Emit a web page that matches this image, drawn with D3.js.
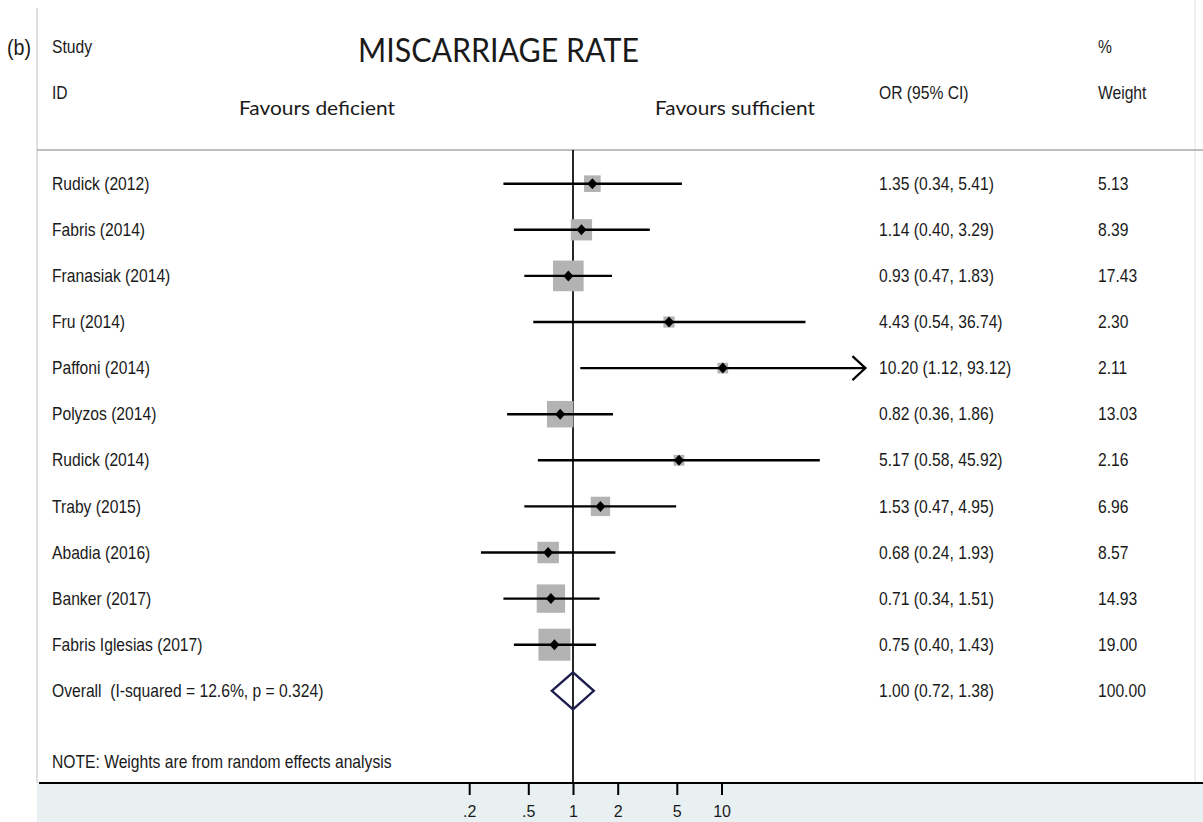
<!DOCTYPE html>
<html>
<head>
<meta charset="utf-8">
<script src="https://cdn.jsdelivr.net/npm/d3@7"></script>
<style>
  body { margin: 0; background: #fff; }
  svg { display: block; }
  .arial { font-family: "Liberation Sans", Arial, sans-serif; fill: #1a1a1a; white-space: pre; }
  .calibri { font-family: Lato, "Open Sans", sans-serif; fill: #1a1a1a; }
</style>
</head>
<body>
<div id="forest"></div>
<script>
var svgWidth = 1203;
var svgHeight = 822;

// Data
var studies = ["Rudick (2012)", "Fabris (2014)", "Franasiak (2014)", "Fru (2014)", "Paffoni (2014)",
    "Polyzos (2014)", "Rudick (2014)", "Traby (2015)", "Abadia (2016)", "Banker (2017)", "Fabris Iglesias (2017)"];
var oddsRatio = [1.35, 1.14, 0.93, 4.43, 10.20, 0.82, 5.17, 1.53, 0.68, 0.71, 0.75];
var ciLow = [0.34, 0.40, 0.47, 0.54, 1.12, 0.36, 0.58, 0.47, 0.24, 0.34, 0.40];
var ciHigh = [5.41, 3.29, 1.83, 36.74, 93.12, 1.86, 45.92, 4.95, 1.93, 1.51, 1.43];
var weights = [5.13, 8.39, 17.43, 2.30, 2.11, 13.03, 2.16, 6.96, 8.57, 14.93, 19.00];

var overallLabel = "Overall  (I-squared = 12.6%, p = 0.324)";
var overallOR = 1.00, overallLow = 0.72, overallHigh = 1.38, overallWeight = 100.00;

var tickValues = [0.2, 0.5, 1, 2, 5, 10];
var tickLabels = [".2", ".5", "1", "2", "5", "10"];

var rows = studies.map(function (s, i) {
    return { study: s, or: oddsRatio[i], lo: ciLow[i], hi: ciHigh[i], w: weights[i], i: i };
});

// Layout
var nullX = 573;
var pxPerLog = 64.5;
var axisY = 783;
var headerY = 150;
var frameLeft = 37, frameRight = 1195;
var colStudy = 52, colOR = 879, colWeight = 1098;

var xMax = d3.max(ciHigh);
var xScale = d3.scaleLog()
    .domain([1 / xMax, xMax])
    .range([nullX - pxPerLog * Math.log(xMax), nullX + pxPerLog * Math.log(xMax)]);

var yScale = d3.scaleLinear()
    .domain([0, studies.length])
    .range([183.7, 690.8]);

var boxSize = d3.scaleSqrt()
    .domain([0, d3.max(weights)])
    .range([0, 32]);

var fmt = d3.format(".2f");

var svg = d3.select('#forest').append('svg')
    .attr('width', svgWidth)
    .attr('height', svgHeight);

// text helper: Arial-like, a bit condensed
function label(g, x, y, txt, size) {
    return g.append("text")
        .attr("class", "arial")
        .attr("xml:space", "preserve")
        .attr("transform", `translate(${x}, ${y}) scale(0.895, 1)`)
        .attr("dy", "0.35em")
        .style("font-size", (size || 17.5) + "px")
        .text(txt);
}

// Bottom band
svg.append("rect")
    .attr("x", frameLeft)
    .attr("y", axisY)
    .attr("width", svgWidth - frameLeft)
    .attr("height", svgHeight - axisY)
    .attr("fill", "#e8f0f2");

// Frame lines
svg.append("line")
    .attr("x1", frameLeft).attr("x2", frameLeft)
    .attr("y1", 8).attr("y2", axisY)
    .attr("stroke", "#d4d4d4").attr("stroke-width", 1.5);
svg.append("line")
    .attr("x1", frameRight).attr("x2", frameRight)
    .attr("y1", 0).attr("y2", axisY)
    .attr("stroke", "#ececec").attr("stroke-width", 1.5);
svg.append("line")
    .attr("x1", frameLeft).attr("x2", svgWidth)
    .attr("y1", headerY).attr("y2", headerY)
    .attr("stroke", "#a8a8a8").attr("stroke-width", 1.5);

// Header texts
label(svg, 7, 47, "(b)", 22);
label(svg, colStudy, 47, "Study");
label(svg, colStudy, 93, "ID");
label(svg, colOR, 93, "OR (95% CI)");
label(svg, colWeight, 47, "%");
label(svg, colWeight, 93, "Weight");

svg.append("text")
    .attr("class", "calibri")
    .attr("x", 358).attr("y", 61.5)
    .attr("textLength", 281).attr("lengthAdjust", "spacingAndGlyphs")
    .style("font-size", "32px")
    .text("MISCARRIAGE RATE");

svg.append("text")
    .attr("class", "calibri")
    .attr("x", 239).attr("y", 115)
    .attr("textLength", 156).attr("lengthAdjust", "spacingAndGlyphs")
    .style("font-size", "19px")
    .text("Favours deficient");

svg.append("text")
    .attr("class", "calibri")
    .attr("x", 655).attr("y", 115)
    .attr("textLength", 160).attr("lengthAdjust", "spacingAndGlyphs")
    .style("font-size", "19px")
    .text("Favours sufficient");

// Null line
svg.append("line")
    .attr("x1", xScale(1)).attr("x2", xScale(1))
    .attr("y1", headerY).attr("y2", axisY)
    .attr("stroke", "#000").attr("stroke-width", 1.7);

// Weight boxes
svg.selectAll("rect.box")
    .data(rows)
    .enter()
    .append("rect")
    .attr("class", "box")
    .attr("x", d => xScale(d.or) - boxSize(d.w) / 2)
    .attr("y", d => yScale(d.i) - boxSize(d.w) / 2)
    .attr("width", d => boxSize(d.w))
    .attr("height", d => boxSize(d.w))
    .attr("fill", "#b3b3b3");

// CI lines
svg.selectAll("line.ci")
    .data(rows)
    .enter()
    .append("line")
    .attr("class", "ci")
    .attr("x1", d => xScale(d.lo))
    .attr("x2", d => xScale(Math.min(d.hi, xMax)))
    .attr("y1", d => yScale(d.i))
    .attr("y2", d => yScale(d.i))
    .attr("stroke", "#000")
    .attr("stroke-width", 2.4);

// Arrow where CI reaches the edge of the plot range
svg.selectAll("path.arrow")
    .data(rows.filter(d => d.hi >= xMax))
    .enter()
    .append("path")
    .attr("class", "arrow")
    .attr("transform", d => `translate(${xScale(xMax)}, ${yScale(d.i)})`)
    .attr("d", "M-13,-12L0,0L-13,12")
    .attr("fill", "none")
    .attr("stroke", "#000")
    .attr("stroke-width", 2.2);

// Point estimates
svg.selectAll("path.point")
    .data(rows)
    .enter()
    .append("path")
    .attr("class", "point")
    .attr("transform", d => `translate(${xScale(d.or)}, ${yScale(d.i)})`)
    .attr("d", "M0,-5.5L5,0L0,5.5L-5,0Z")
    .attr("fill", "#000");

// Overall diamond
var oy = yScale(studies.length);
svg.append("path")
    .attr("d", d3.line()([
        [xScale(overallLow), oy],
        [xScale(overallOR), oy - 18.5],
        [xScale(overallHigh), oy],
        [xScale(overallOR), oy + 18.5]
    ]) + "Z")
    .attr("fill", "none")
    .attr("stroke", "#1f1f4f")
    .attr("stroke-width", 2.4);

// Row texts
rows.forEach(function (d) {
    var y = yScale(d.i);
    label(svg, colStudy, y, d.study);
    label(svg, colOR, y, `${fmt(d.or)} (${fmt(d.lo)}, ${fmt(d.hi)})`);
    label(svg, colWeight, y, fmt(d.w));
});

label(svg, colStudy, oy, overallLabel);
label(svg, colOR, oy, `${fmt(overallOR)} (${fmt(overallLow)}, ${fmt(overallHigh)})`);
label(svg, colWeight, oy, fmt(overallWeight));

label(svg, colStudy, 762, "NOTE: Weights are from random effects analysis");

// Axis
var bottomAxis = d3.axisBottom(xScale)
    .tickValues(tickValues)
    .tickFormat((d, i) => tickLabels[i])
    .tickSize(12)
    .tickSizeOuter(0);

var axisG = svg.append("g")
    .attr("transform", `translate(0, ${axisY})`)
    .call(bottomAxis);

axisG.select(".domain").remove();
axisG.selectAll(".tick line")
    .attr("stroke", "#000")
    .attr("stroke-width", 2);
axisG.selectAll(".tick text")
    .attr("class", "arial")
    .attr("y", 28)
    .attr("dy", "0.35em")
    .style("font-size", "16px");

svg.append("line")
    .attr("x1", frameLeft + 2).attr("x2", svgWidth)
    .attr("y1", axisY).attr("y2", axisY)
    .attr("stroke", "#000").attr("stroke-width", 2);
</script>
</body>
</html>
